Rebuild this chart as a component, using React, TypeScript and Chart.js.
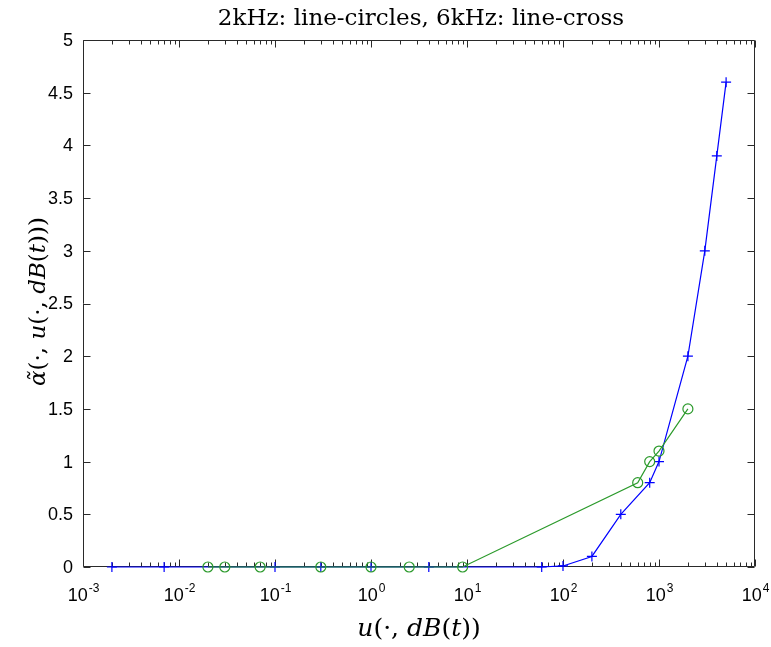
import { useEffect, useRef } from "react";
import { Chart, registerables } from "chart.js";

Chart.register(...registerables);

// ---- data ----
const titleText = "2kHz: line-circles, 6kHz: line-cross";

// 2 kHz : line with circles
const circleX = [0.02, 0.03, 0.07, 0.3, 1, 2.5, 9, 600, 800, 1000, 2000];
const circleY = [0, 0, 0, 0, 0, 0, 0, 0.8, 1.0, 1.1, 1.5];

// 6 kHz : line with crosses
const crossX = [0.002, 0.007, 0.1, 0.3, 1, 4, 60, 100, 200, 400, 800, 1000, 2000, 3000, 4000, 5000];
const crossY = [0, 0, 0, 0, 0, 0, 0, 0.01, 0.1, 0.5, 0.8, 1.0, 2.0, 3.0, 3.9, 4.6];

const xTickExponents = [-3, -2, -1, 0, 1, 2, 3, 4];
const xTickExpLabels = ["-3", "-2", "-1", "0", "1", "2", "3", "4"];
const yTickValues = [0, 0.5, 1, 1.5, 2, 2.5, 3, 3.5, 4, 4.5, 5];
const yTickLabels = ["0", "0.5", "1", "1.5", "2", "2.5", "3", "3.5", "4", "4.5", "5"];

type Part = { t: string; i: boolean };
const xLabelParts: Part[] = [
  { t: "u", i: true },
  { t: "(·, ", i: false },
  { t: "dB", i: true },
  { t: "(", i: false },
  { t: "t", i: true },
  { t: "))", i: false },
];
const yLabelParts: Part[] = [
  { t: "α\u0303", i: true },
  { t: "(·, ", i: false },
  { t: "u", i: true },
  { t: "(·, ", i: false },
  { t: "dB", i: true },
  { t: "(", i: false },
  { t: "t", i: true },
  { t: ")))", i: false },
];

const BLUE = "#0000ff";
const GREEN = "#2b9a2b";
const AXIS = "#2a2a2a";
const SERIF = "'DejaVu Serif', 'Liberation Serif', serif";
const SANS = "'Liberation Sans', Arial, sans-serif";

function drawParts(ctx: CanvasRenderingContext2D, parts: Part[], size: number) {
  const fontFor = (p: Part) => `${p.i ? "italic " : ""}${size}px ${SERIF}`;
  let w = 0;
  for (const p of parts) {
    ctx.font = fontFor(p);
    w += ctx.measureText(p.t).width;
  }
  let x = -w / 2;
  ctx.textAlign = "left";
  for (const p of parts) {
    ctx.font = fontFor(p);
    ctx.fillText(p.t, x, 0);
    x += ctx.measureText(p.t).width;
  }
}

const matlabAxes = {
  id: "matlabAxes",
  beforeDatasetsDraw(chart: any) {
    const { ctx, chartArea: a, scales } = chart;
    const xs = scales.x;
    const ys = scales.y;
    ctx.save();
    ctx.strokeStyle = AXIS;
    ctx.lineWidth = 1;
    const L = Math.round(a.left) + 0.5;
    const R = Math.round(a.right) - 0.5;
    const T = Math.round(a.top) + 0.5;
    const B = Math.round(a.bottom) - 0.5;
    ctx.beginPath();
    ctx.rect(L, T, R - L, B - T);
    ctx.stroke();
    ctx.beginPath();
    for (const v of yTickValues) {
      const py = Math.round(ys.getPixelForValue(v)) + 0.5;
      ctx.moveTo(L, py);
      ctx.lineTo(L + 7, py);
      ctx.moveTo(R, py);
      ctx.lineTo(R - 7, py);
    }
    for (let k = 0; k < xTickExponents.length; k++) {
      const e = xTickExponents[k];
      const px = Math.round(xs.getPixelForValue(Math.pow(10, e))) + 0.5;
      ctx.moveTo(px, B);
      ctx.lineTo(px, B - 7);
      ctx.moveTo(px, T);
      ctx.lineTo(px, T + 7);
      if (k < xTickExponents.length - 1) {
        for (let m = 2; m <= 9; m++) {
          const qx = Math.round(xs.getPixelForValue(m * Math.pow(10, e))) + 0.5;
          ctx.moveTo(qx, B);
          ctx.lineTo(qx, B - 4);
          ctx.moveTo(qx, T);
          ctx.lineTo(qx, T + 4);
        }
      }
    }
    ctx.stroke();
    ctx.restore();
  },
  afterDraw(chart: any) {
    const { ctx, chartArea: a, scales } = chart;
    const xs = scales.x;
    const ys = scales.y;
    ctx.save();
    ctx.fillStyle = "#000";
    ctx.font = `18px ${SANS}`;
    ctx.textAlign = "right";
    ctx.textBaseline = "middle";
    for (let k = 0; k < yTickValues.length; k++) {
      ctx.fillText(yTickLabels[k], a.left - 10, ys.getPixelForValue(yTickValues[k]) + 1);
    }
    ctx.textBaseline = "alphabetic";
    ctx.textAlign = "left";
    for (let k = 0; k < xTickExponents.length; k++) {
      const px = xs.getPixelForValue(Math.pow(10, xTickExponents[k]));
      ctx.font = `18px ${SANS}`;
      const wb = ctx.measureText("10").width;
      ctx.font = `12px ${SANS}`;
      const we = ctx.measureText(xTickExpLabels[k]).width;
      const x0 = px - (wb + we) / 2;
      ctx.font = `18px ${SANS}`;
      ctx.fillText("10", x0, a.bottom + 34);
      ctx.font = `12px ${SANS}`;
      ctx.fillText(xTickExpLabels[k], x0 + wb + 1, a.bottom + 25);
    }
    // title
    ctx.font = `23px ${SERIF}`;
    ctx.textAlign = "center";
    ctx.fillText(titleText, (a.left + a.right) / 2 + 2, 25);
    // x label
    ctx.save();
    ctx.translate((a.left + a.right) / 2, 636);
    drawParts(ctx, xLabelParts, 25);
    ctx.restore();
    // y label
    ctx.save();
    ctx.translate(45, (a.top + a.bottom) / 2 - 2);
    ctx.rotate(-Math.PI / 2);
    drawParts(ctx, yLabelParts, 23);
    ctx.restore();
    ctx.restore();
  },
};

export default function App() {
  const ref = useRef<HTMLCanvasElement | null>(null);
  useEffect(() => {
    document.body.style.margin = "0";
    const canvas = ref.current;
    if (!canvas) return;
    const chart = new Chart(canvas, {
      type: "line",
      data: {
        datasets: [
          {
            label: "2kHz",
            data: circleX.map((x, i) => ({ x, y: circleY[i] })),
            borderColor: GREEN,
            backgroundColor: "rgba(0,0,0,0)",
            borderWidth: 1.2,
            pointStyle: "circle",
            pointRadius: 5,
            pointBorderWidth: 1.2,
            pointBorderColor: GREEN,
            pointBackgroundColor: "rgba(0,0,0,0)",
            tension: 0,
            clip: false as any,
          },
          {
            label: "6kHz",
            data: crossX.map((x, i) => ({ x, y: crossY[i] })),
            borderColor: BLUE,
            backgroundColor: "rgba(0,0,0,0)",
            borderWidth: 1.2,
            pointStyle: "cross",
            pointRadius: 5,
            pointBorderWidth: 1.2,
            pointBorderColor: BLUE,
            pointBackgroundColor: BLUE,
            tension: 0,
            clip: false as any,
          },
        ],
      },
      options: {
        responsive: false,
        animation: false,
        devicePixelRatio: 1,
        events: [],
        layout: { padding: { left: 83, right: 16, top: 40, bottom: 80 } },
        plugins: { legend: { display: false }, tooltip: { enabled: false }, title: { display: false } },
        scales: {
          x: { type: "logarithmic", min: 0.001, max: 10000, display: false },
          y: { type: "linear", min: 0, max: 5, display: false },
        },
      },
      plugins: [matlabAxes],
    });
    return () => chart.destroy();
  }, []);
  return (
    <div style={{ position: "fixed", left: 0, top: 0, width: 771, height: 647, background: "#fff" }}>
      <canvas ref={ref} width={771} height={647} style={{ display: "block", width: 771, height: 647 }} />
    </div>
  );
}
